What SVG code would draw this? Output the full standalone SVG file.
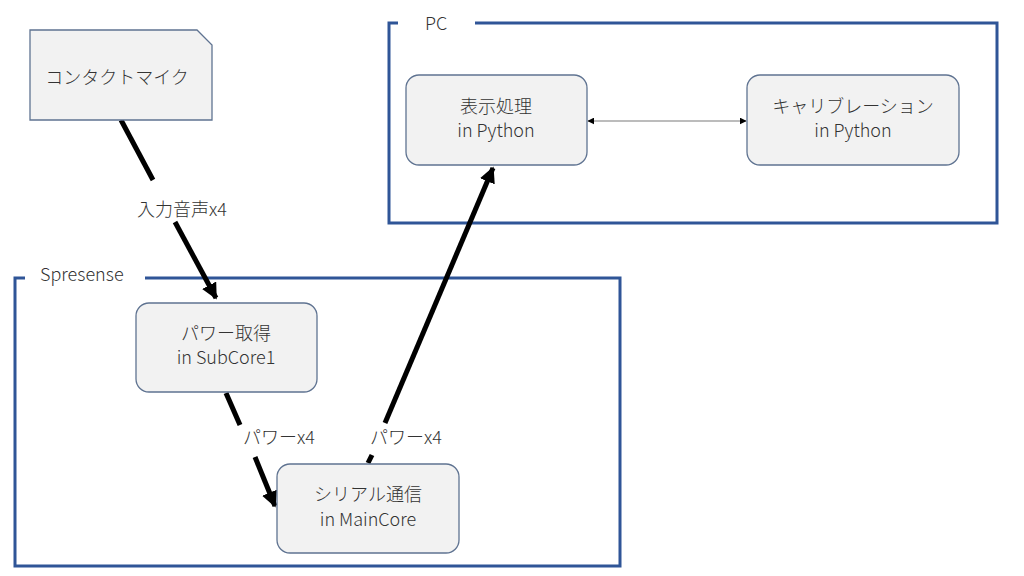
<svg xmlns="http://www.w3.org/2000/svg" width="1024" height="576" viewBox="0 0 1024 576">
<defs>
<style>
.frame{fill:none;stroke:#2F5597;stroke-width:3}
.node{fill:#F2F2F2;stroke:#5F7391;stroke-width:1.3}
.t{font-family:"Noto Sans CJK JP","Noto Sans",sans-serif;font-size:18px;font-weight:300;fill:#333;text-anchor:middle}
.ft{font-family:"Noto Sans CJK JP","Noto Sans",sans-serif;font-size:18px;font-weight:300;fill:#333}
.thick{stroke:#000;stroke-width:5;fill:none}
.thin{stroke:#A6A6A6;stroke-width:1.3;fill:none}
</style>
<marker id="ah" viewBox="0 0 10 10" refX="9" refY="5" markerWidth="3.2" markerHeight="3.2" orient="auto" markerUnits="strokeWidth">
<path d="M0,0 L10,5 L0,10 z" fill="#000"/>
</marker>
<marker id="sa" viewBox="0 0 10 10" refX="9" refY="5" markerWidth="7" markerHeight="7" orient="auto-start-reverse" markerUnits="userSpaceOnUse">
<path d="M0,0 L10,5 L0,10 z" fill="#000"/>
</marker>
</defs>
<rect width="1024" height="576" fill="#fff"/>
<g id="frame-pc">
<path class="frame" d="M398,23 H389 V223 H997 V23 H475"/>
<text class="ft" x="425" y="30">PC</text>
</g>
<g id="frame-spresense">
<path class="frame" d="M25,278 H15 V566 H620 V278 H145"/>
<text class="ft" x="40" y="281">Spresense</text>
</g>
<g id="connectors">
<line class="thick" x1="121" y1="120" x2="153" y2="180"/>
<line class="thick" x1="175" y1="222" x2="216" y2="298" marker-end="url(#ah)"/>
<text class="t" x="182" y="216">入力音声x4</text>
<line class="thick" x1="226" y1="393" x2="240" y2="425"/>
<line class="thick" x1="255" y1="457" x2="275" y2="506" marker-end="url(#ah)"/>
<text class="t" x="279" y="444">パワーx4</text>
<line class="thick" x1="368" y1="463" x2="372" y2="455"/>
<line class="thick" x1="385" y1="423" x2="493" y2="168" marker-end="url(#ah)"/>
<text class="t" x="406" y="444">パワーx4</text>
<line class="thin" x1="588" y1="121" x2="746" y2="121" marker-start="url(#sa)" marker-end="url(#sa)"/>
</g>
<g id="node-mic">
<path class="node" d="M30,30 H197 L212,45 V120 H30 Z"/>
<text class="t" x="117" y="84">コンタクトマイク</text>
</g>
<g id="node-power">
<rect class="node" x="136" y="303" width="181" height="89" rx="13"/>
<text class="t" x="226" y="340">パワー取得</text>
<text class="t" x="226" y="364">in SubCore1</text>
</g>
<g id="node-serial">
<rect class="node" x="277" y="464" width="182" height="89" rx="13"/>
<text class="t" x="368" y="501">シリアル通信</text>
<text class="t" x="368" y="526">in MainCore</text>
</g>
<g id="node-display">
<rect class="node" x="406" y="75" width="181" height="90" rx="13"/>
<text class="t" x="496" y="113">表示処理</text>
<text class="t" x="496" y="137">in Python</text>
</g>
<g id="node-calib">
<rect class="node" x="747" y="75" width="212" height="90" rx="13"/>
<text class="t" x="853" y="113">キャリブレーション</text>
<text class="t" x="853" y="137">in Python</text>
</g>
</svg>
